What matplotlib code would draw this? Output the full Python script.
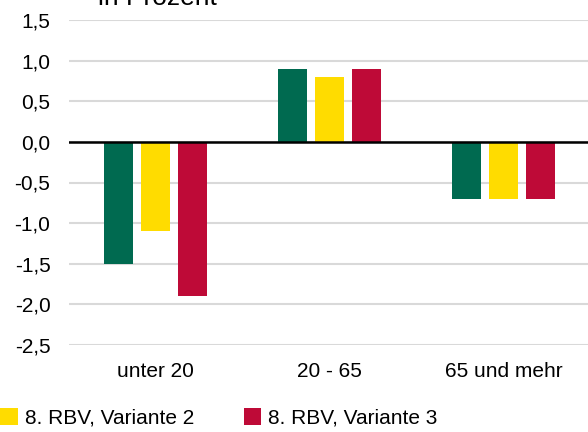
import matplotlib
matplotlib.use('Agg')
import matplotlib.pyplot as plt
from matplotlib.patches import Patch
import numpy as np

plt.rcParams['font.family'] = ['Liberation Sans', 'DejaVu Sans']

categories = ['unter 20', '20 - 65', '65 und mehr']
series_names = ['8. RBV, Variante 1', '8. RBV, Variante 2', '8. RBV, Variante 3']
variante_1 = [-1.5, 0.9, -0.7]
variante_2 = [-1.1, 0.8, -0.7]
variante_3 = [-1.9, 0.9, -0.7]
y_ticks = [1.5, 1.0, 0.5, 0.0, -0.5, -1.0, -1.5, -2.0, -2.5]
colors = ['#006A50', '#FFDC00', '#BE0A37']

W, H = 588, 432
fig = plt.figure(figsize=(W / 100, H / 100), dpi=100)
ax = fig.add_axes([68.5 / W, (H - 345) / H, 522 / W, 325 / H])

x = np.arange(len(categories))
width = 0.167
step = 0.213
for i, (vals, c) in enumerate(zip([variante_1, variante_2, variante_3], colors)):
    ax.bar(x + (i - 1) * step, vals, width, color=c, zorder=3)

ax.set_xlim(-0.5, 2.5)
ax.set_ylim(-2.5, 1.5)
ax.set_yticks(y_ticks)
ax.set_yticklabels(['{:.1f}'.format(v).replace('.', ',') for v in y_ticks])
ax.set_xticks(x)
ax.set_xticklabels(categories)
ax.tick_params(axis='both', length=0, labelsize=15, colors='black')
ax.tick_params(axis='y', pad=13)
ax.tick_params(axis='x', pad=12)
for s in ax.spines.values():
    s.set_visible(False)
ax.grid(axis='y', color='#d9d9d9', linewidth=1.5, zorder=0)
ax.set_axisbelow(True)
ax.axhline(0, color='black', linewidth=1.8, zorder=4)

fig.text(98 / W, 1 - 5 / H, 'in Prozent', fontsize=19, va='baseline', ha='left')

handles = [Patch(facecolor=c, edgecolor='none') for c in colors]
fig.legend(handles, series_names, ncol=3, loc='center left',
           bbox_to_anchor=(-243 / W, 1 - 418 / H), frameon=False,
           fontsize=15, handlelength=0.86, handleheight=0.86,
           handletextpad=0.32, columnspacing=2.37, borderpad=0,
           borderaxespad=0)

fig.savefig('out.png', dpi=100)
